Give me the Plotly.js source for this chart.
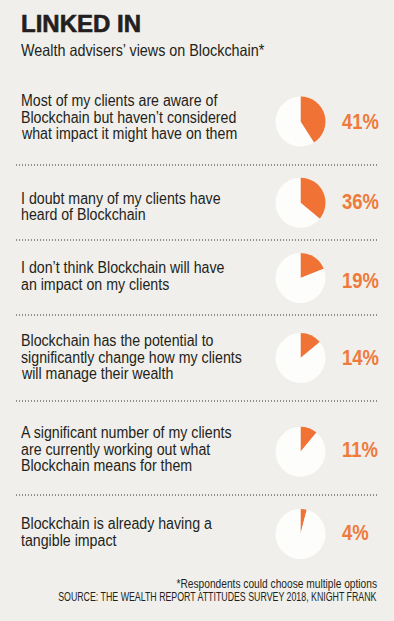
<!DOCTYPE html>
<html>
<head>
<meta charset="utf-8">
<script src="https://cdn.plot.ly/plotly-3.0.1.min.js"></script>
<style>
html,body{margin:0;padding:0;background:#f1efeb;}
#chart{width:394px;height:621px;}
</style>
</head>
<body>
<div id="chart"></div>
<script>
// ---- data ----
const titleText = "LINKED IN";
const subtitleText = "Wealth advisers’ views on Blockchain*";
const statements = [
  ["Most of my clients are aware of", "Blockchain but haven’t considered", "what impact it might have on them"],
  ["I doubt many of my clients have", "heard of Blockchain"],
  ["I don’t think Blockchain will have", "an impact on my clients"],
  ["Blockchain has the potential to", "significantly change how my clients", "will manage their wealth"],
  ["A significant number of my clients", "are currently working out what", "Blockchain means for them"],
  ["Blockchain is already having a", "tangible impact"]
];
const shares = [41, 36, 19, 14, 11, 4];
const footnote = "*Respondents could choose multiple options";
const sourceText = "SOURCE: THE WEALTH REPORT ATTITUDES SURVEY 2018, KNIGHT FRANK";

// ---- layout constants (pixels) ----
const W = 394, H = 621;
const pieCx = 300.5, pieR = 25;
const pieCy = [121.5, 202.7, 278, 358, 451.7, 534];
const firstLineY = [100.8, 198.4, 267.9, 340.8, 432.8, 523.9];
const lineGap = 16.5;
const pctY = [122, 201, 280, 357, 449, 532];
const sepY = [165, 240, 315, 401, 495];

const ORANGE = "#f07234";
const ORANGE_TXT = "#ee7a3c";
const DARK = "#231f20";
const FONT = "'Liberation Sans', Arial, sans-serif";

const px = x => x / W;
const py = y => 1 - y / H;

const traces = shares.map((v, i) => ({
  type: "pie",
  values: [v, 100 - v],
  labels: ["yes", "rest"],
  sort: false,
  direction: "clockwise",
  rotation: 0,
  textinfo: "none",
  hoverinfo: "skip",
  showlegend: false,
  marker: {colors: [ORANGE, "#fdfdfc"], line: {width: 0}},
  domain: {x: [px(pieCx - pieR), px(pieCx + pieR)], y: [py(pieCy[i] + pieR), py(pieCy[i] - pieR)]}
}));

// annotations plus a parallel list of horizontal condensing (to mimic the condensed typeface)
const annotations = [];
const condense = [];
function addText(a, anchorSide, scale) {
  a.borderpad = 0;
  annotations.push(a);
  condense.push({side: anchorSide, s: scale});
}
addText({
  xref: "paper", yref: "paper", x: px(20), y: py(50), xanchor: "left", yanchor: "middle",
  text: subtitleText, showarrow: false,
  font: {family: FONT, size: 16.5, color: DARK}
}, "left", 0.87);
statements.forEach((lines, i) => {
  lines.forEach((ln, j) => {
    addText({
      xref: "paper", yref: "paper", x: px(20), y: py(firstLineY[i] + j * lineGap),
      xanchor: "left", yanchor: "middle", text: ln, showarrow: false,
      font: {family: FONT, size: 15.6, color: DARK}
    }, "left", 0.91);
  });
  addText({
    xref: "paper", yref: "paper", x: px(341), y: py(pctY[i]),
    xanchor: "left", yanchor: "middle", text: shares[i] + "%", showarrow: false,
    font: {family: FONT, size: 22, color: ORANGE_TXT, weight: 700}
  }, "left", 0.84);
});
addText({
  xref: "paper", yref: "paper", x: px(378), y: py(583.5), xanchor: "right", yanchor: "middle",
  text: footnote, showarrow: false, font: {family: FONT, size: 12, color: DARK}
}, "right", 0.85);
addText({
  xref: "paper", yref: "paper", x: px(378), y: py(597), xanchor: "right", yanchor: "middle",
  text: sourceText, showarrow: false, font: {family: FONT, size: 12, color: DARK}
}, "right", 0.735);

const shapes = sepY.map(y => ({
  type: "line", xref: "paper", yref: "paper",
  x0: px(16), x1: px(378), y0: py(y), y1: py(y),
  line: {color: "#2a2a2a", width: 1, dash: "1px,2px"}
}));

const layout = {
  width: W, height: H,
  margin: {l: 0, r: 0, t: 0, b: 0},
  paper_bgcolor: "#f1efeb",
  plot_bgcolor: "#f1efeb",
  title: {
    text: titleText, xref: "paper", yref: "paper", x: px(21), y: py(23.5),
    xanchor: "left", yanchor: "middle",
    font: {family: FONT, size: 24, color: DARK, weight: 700}
  },
  annotations: annotations,
  shapes: shapes
};

Plotly.newPlot("chart", traces, layout, {staticPlot: true, displayModeBar: false}).then(gd => {
  const groups = gd.querySelectorAll("g.annotation");
  groups.forEach((g, k) => {
    const c = condense[k];
    if (!c) return;
    const t = g.querySelector("text.annotation-text");
    if (!t) return;
    const bb = t.getBBox();
    const ax = c.side === "left" ? bb.x : bb.x + bb.width;
    const prev = t.getAttribute("transform") || "";
    t.setAttribute("transform", prev + " translate(" + ax + ",0) scale(" + c.s + ",1) translate(" + (-ax) + ",0)");
  });
  const title = gd.querySelector("text.gtitle");
  if (title) { title.style.stroke = DARK; title.style.strokeWidth = "0.6px"; }
});
</script>
</body>
</html>
